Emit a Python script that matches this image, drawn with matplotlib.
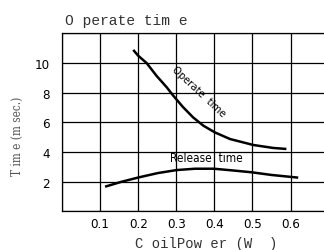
import matplotlib
matplotlib.use("Agg")
import matplotlib.pyplot as plt
import numpy as np

# curve points
operate_x = [0.187, 0.200, 0.222, 0.248, 0.275, 0.292, 0.318, 0.344, 0.371,
             0.401, 0.441, 0.502, 0.554, 0.589]
operate_y = [10.88, 10.49, 10.0, 9.14, 8.36, 7.80, 7.02, 6.34, 5.78,
             5.33, 4.88, 4.48, 4.28, 4.21]
release_x = [0.113, 0.156, 0.202, 0.252, 0.301, 0.349, 0.399, 0.454, 0.498,
             0.550, 0.620]
release_y = [1.67, 2.00, 2.30, 2.59, 2.79, 2.88, 2.88, 2.75, 2.64, 2.46, 2.28]
x_ticks = [0.1, 0.2, 0.3, 0.4, 0.5, 0.6]
y_ticks = [2, 4, 6, 8, 10]

narrow = dict(family="DejaVu Sans", stretch="condensed")
mono = ["Liberation Mono", "DejaVu Sans Mono"]

fig = plt.figure(figsize=(3.24, 2.51), dpi=100)
ax = fig.add_axes([0.1914, 0.1534, 0.823, 0.71])

ax.plot(operate_x, operate_y, color="black", lw=1.8, solid_capstyle="butt")
ax.plot(release_x, release_y, color="black", lw=1.8, solid_capstyle="butt")

ax.set_xlim(0, 0.7)
ax.set_ylim(0, 12)
ax.set_xticks(np.arange(0, 0.71, 0.1))
ax.set_yticks(np.arange(0, 12.1, 2))
ax.set_xticklabels([""] + [f"{v:.1f}" for v in x_ticks] + [""], fontsize=9.5, **narrow)
ax.set_yticklabels([""] + [str(v) for v in y_ticks] + [""], fontsize=9.5, **narrow)
ax.tick_params(axis="x", length=0, pad=4)
ax.tick_params(axis="y", length=0, pad=8.5)
ax.grid(True, color="black", lw=0.9)
for s in ax.spines.values():
    s.set_linewidth(0.9)

ax.text(0.36, 8.15, "Operate  time", rotation=-43, ha="center", va="center",
        fontsize=8, **narrow)
ax.text(0.378, 3.66, "Release  time", ha="center", va="center",
        fontsize=8.5, **narrow)

fig.text(65 / 324, 1 - 21 / 251, "O perate tim e", ha="left", va="center",
         family=mono, fontsize=10.5, color="#333333")
fig.text(206 / 324, 1 - 244 / 251, "C oilPow er (W  )", ha="center", va="center",
         family=mono, fontsize=10, color="#333333")
fig.text(17 / 324, 1 - 136 / 251, "T im e (m sec.)", rotation=90, ha="center",
         va="center", family="DejaVu Serif", stretch="condensed", fontsize=8.5,
         color="#555555")

fig.savefig("out.png", dpi=100)
